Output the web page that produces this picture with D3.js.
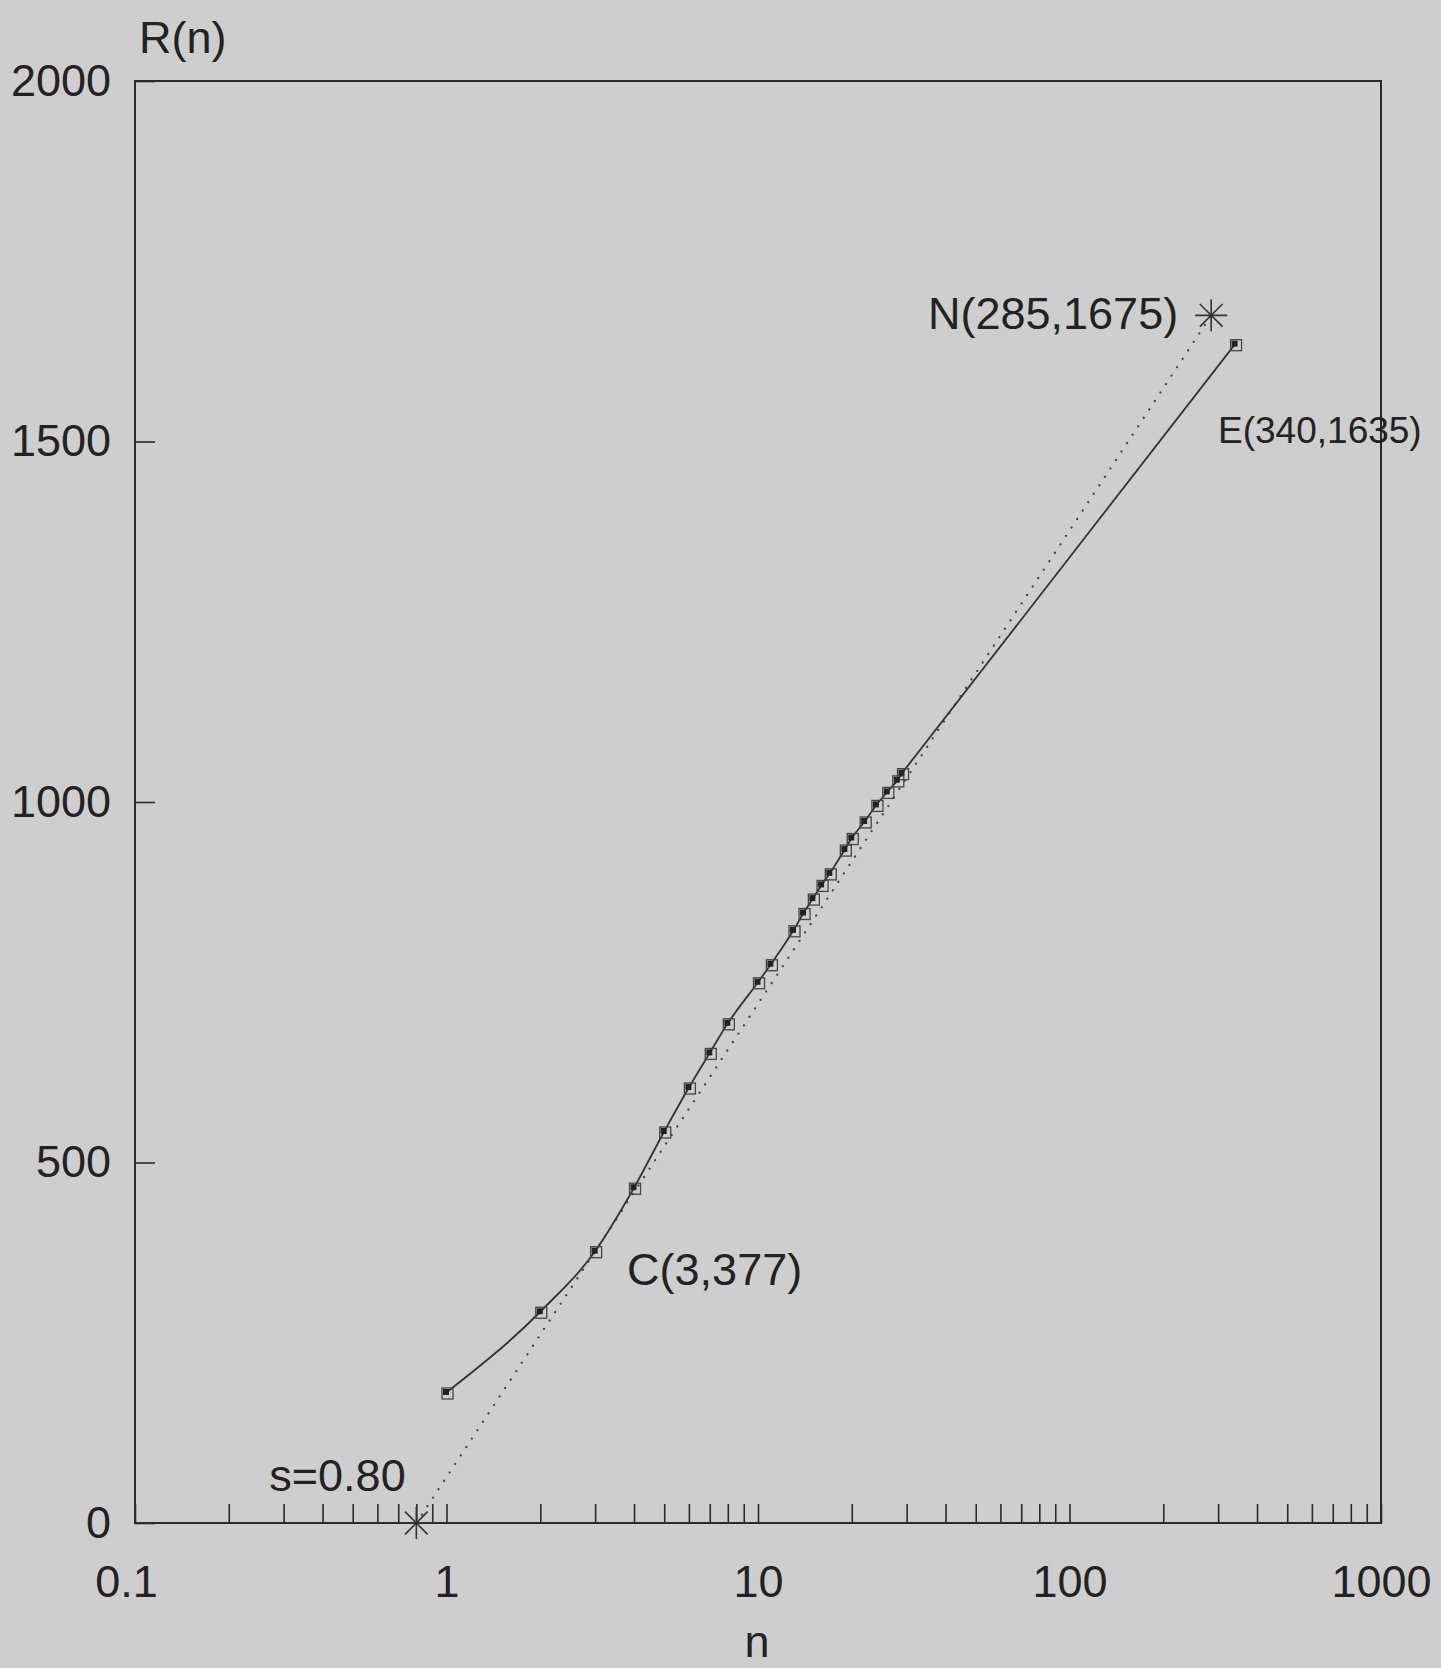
<!DOCTYPE html>
<html>
<head>
<meta charset="utf-8">
<script src="https://cdn.jsdelivr.net/npm/d3@7"></script>
<style>
  html, body { margin: 0; padding: 0; background: #cecece; }
  svg { display: block; }
  text { font-family: "Liberation Sans", Arial, sans-serif; fill: #222; }
</style>
</head>
<body>
<svg id="chart" width="1441" height="1668"></svg>
<script>
// ---- data ----
const nValues = [1, 2, 3, 4, 5, 6, 7, 8, 10, 11, 13, 14, 15, 16, 17, 19, 20, 22, 24, 26, 28, 29, 340];
const rValues = [181, 293, 377, 465, 543, 604, 652, 693, 750, 775, 822, 846, 866, 885, 901, 934, 950, 973, 996, 1014, 1030, 1040, 1635];
const fitN = [0.8, 285];
const fitR = [0, 1675];
const starN = [0.8, 285];
const starR = [0, 1675];
const xMajorTicks = [0.1, 1, 10, 100, 1000];
const xTickLabels = ["0.1", "1", "10", "100", "1000"];
const yTicks = [0, 500, 1000, 1500, 2000];
const yTickLabels = ["0", "500", "1000", "1500", "2000"];
const annotations = [
  { text: "N(285,1675)", n: 285, r: 1675 },
  { text: "E(340,1635)", n: 340, r: 1635 },
  { text: "C(3,377)", n: 3, r: 377 },
  { text: "s=0.80", n: 0.8, r: 0 }
];
const annotationStyle = [
  { dx: -33, dy: 14, anchor: "end", size: 45 },
  { dx: -17, dy: 99, anchor: "start", size: 37 },
  { dx: 32, dy: 34, anchor: "start", size: 45 },
  { dx: -147, dy: -32, anchor: "start", size: 45 }
];

// ---- layout ----
const L = 135, R = 1381, T = 81, B = 1523;
const svg = d3.select("#chart");
const x = d3.scaleLog().domain([0.1, 1000]).range([L, R]);
const y = d3.scaleLinear().domain([0, 2000]).range([B, T]);
const ink = "#2a2a2a";

// minor + major ticks on the x axis (inward)
const xAllTicks = [];
for (let e = -1; e <= 2; e++) for (let k = 1; k <= 9; k++) xAllTicks.push(+(k * Math.pow(10, e)).toPrecision(3));
xAllTicks.push(1000);

const gx = svg.append("g").attr("transform", `translate(0,${B})`)
  .call(d3.axisBottom(x).tickValues(xAllTicks).tickSize(-19).tickFormat(""));
gx.select(".domain").remove();
gx.selectAll("line").attr("stroke", ink).attr("stroke-width", 1.6);

const gxl = svg.append("g").attr("transform", `translate(0,${B})`)
  .call(d3.axisBottom(x).tickValues(xMajorTicks).tickSize(0).tickPadding(42)
    .tickFormat((d, i) => xTickLabels[i]));
gxl.select(".domain").remove();
gxl.selectAll("text").attr("font-size", 45).attr("fill", "#222")
  .attr("font-family", "Liberation Sans, Arial, sans-serif")
  .attr("dx", d => d === 0.1 ? -9 : 0);

const gy = svg.append("g").attr("transform", `translate(${L},0)`)
  .call(d3.axisLeft(y).tickValues(yTicks).tickSize(-20).tickPadding(24)
    .tickFormat((d, i) => yTickLabels[i]));
gy.select(".domain").remove();
gy.selectAll("line").attr("stroke", ink).attr("stroke-width", 1.6);
gy.selectAll("text").attr("font-size", 45).attr("fill", "#222")
  .attr("font-family", "Liberation Sans, Arial, sans-serif");

// frame
svg.append("rect").attr("x", L).attr("y", T).attr("width", R - L).attr("height", B - T)
  .attr("fill", "none").attr("stroke", ink).attr("stroke-width", 2);

// axis titles
svg.append("text").attr("x", 139).attr("y", 53).attr("font-size", 45).text("R(n)");
svg.append("text").attr("x", 757).attr("y", 1657).attr("font-size", 45)
  .attr("text-anchor", "middle").text("n");

// dotted fit line
const fitData = fitN.map((n, i) => ({ n, r: fitR[i] }));
svg.append("path").datum(fitData)
  .attr("d", d3.line().x(d => x(d.n)).y(d => y(d.r)))
  .attr("fill", "none").attr("stroke", "#444").attr("stroke-width", 2.2)
  .attr("stroke-linecap", "round").attr("stroke-dasharray", "0.1,10");

// solid data line: smooth through the dense points, straight to the end point
const data = nValues.map((n, i) => ({ n, r: rValues[i] }));
const curvePart = data.slice(0, data.length - 1);
const tailPart = data.slice(data.length - 2);
svg.append("path").datum(curvePart)
  .attr("d", d3.line().x(d => x(d.n)).y(d => y(d.r)).curve(d3.curveMonotoneX))
  .attr("fill", "none").attr("stroke", "#333").attr("stroke-width", 1.8);
svg.append("path").datum(tailPart)
  .attr("d", d3.line().x(d => x(d.n)).y(d => y(d.r)))
  .attr("fill", "none").attr("stroke", "#333").attr("stroke-width", 1.8);

// markers: hollow squares with a small filled square
const mk = svg.append("g");
mk.selectAll("rect.h").data(data).enter().append("rect")
  .attr("class", "h")
  .attr("x", d => x(d.n) - 4.5).attr("y", d => y(d.r) - 4.5)
  .attr("width", 11).attr("height", 11)
  .attr("fill", "none").attr("stroke", "#444").attr("stroke-width", 1.3);
mk.selectAll("rect.f").data(data).enter().append("rect")
  .attr("class", "f")
  .attr("x", d => x(d.n) - 3.5).attr("y", d => y(d.r) - 3.5)
  .attr("width", 6).attr("height", 6)
  .attr("fill", "#222");

// asterisk stars
const starData = starN.map((n, i) => ({ n, r: starR[i] }));
const rad = 16;
const angles = [0, 45, 90, 135];
starData.forEach(s => {
  const g = svg.append("g").attr("transform", `translate(${x(s.n)},${y(s.r)})`);
  angles.forEach(a => {
    const t = a * Math.PI / 180;
    g.append("line")
      .attr("x1", -rad * Math.cos(t)).attr("y1", -rad * Math.sin(t))
      .attr("x2", rad * Math.cos(t)).attr("y2", rad * Math.sin(t))
      .attr("stroke", "#333").attr("stroke-width", 1.6);
  });
});

// annotations
annotations.forEach((a, i) => {
  const st = annotationStyle[i];
  svg.append("text")
    .attr("x", x(a.n) + st.dx).attr("y", y(a.r) + st.dy)
    .attr("text-anchor", st.anchor).attr("font-size", st.size)
    .text(a.text);
});
</script>
</body>
</html>
